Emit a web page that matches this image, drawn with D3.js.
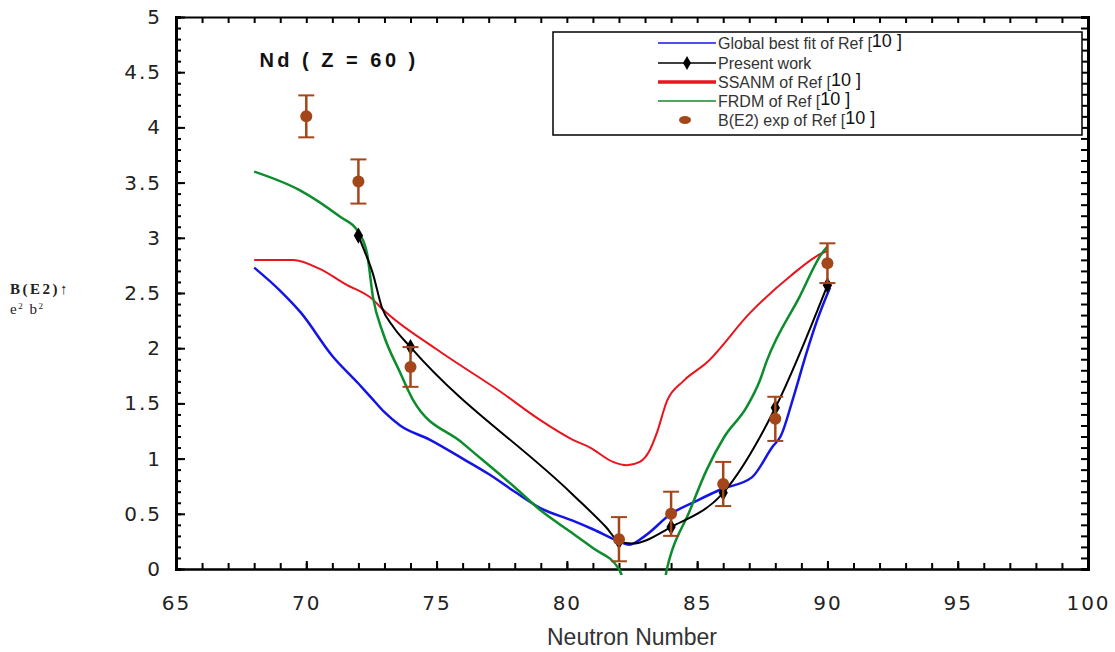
<!DOCTYPE html>
<html>
<head>
<meta charset="utf-8">
<script src="https://cdn.jsdelivr.net/npm/d3@7"></script>
<style>
  body { margin: 0; background: #fff; }
  .tick text { font-family: "DejaVu Sans", sans-serif; font-size: 20px; fill: #222; letter-spacing: 2px; }
</style>
</head>
<body>
<div id="chart"></div>
<script>
// axis ticks
const xMajor = [65, 70, 75, 80, 85, 90, 95, 100];
const yMajor = [0, 0.5, 1, 1.5, 2, 2.5, 3, 3.5, 4, 4.5, 5];

// B(E2) exp of Ref [10]
const expN = [70, 72, 74, 82, 84, 86, 88, 90];
const expB = [4.10, 3.51, 1.83, 0.27, 0.50, 0.77, 1.36, 2.77];
const expErr = [0.19, 0.20, 0.18, 0.20, 0.20, 0.20, 0.20, 0.18];

// Present work (markers + traced line)
const presentN = [72, 74, 82, 84, 86, 88, 90];
const presentB = [3.02, 2.01, 0.25, 0.38, 0.69, 1.46, 2.57];
const presentLineN = [72, 72.2, 72.55, 72.9, 73.35, 74, 80.2, 81.5, 82, 82.5, 84, 86, 88, 90];
const presentLineB = [3.02, 2.90, 2.68, 2.37, 2.19, 2.01, 0.68, 0.38, 0.25, 0.23, 0.38, 0.69, 1.46, 2.57];

// Global best fit of Ref [10]
const globalN = [68, 69, 69.8, 71, 72, 72.5, 73, 73.6, 74.75, 76, 77, 78, 79, 80.2, 81, 82, 82.4, 83, 84, 85, 85.9, 87.1, 87.9, 88.2, 88.7, 89.2, 89.6, 90.1];
const globalB = [2.73, 2.52, 2.32, 1.93, 1.68, 1.55, 1.42, 1.30, 1.17, 1.00, 0.86, 0.70, 0.55, 0.44, 0.36, 0.25, 0.22, 0.30, 0.50, 0.62, 0.72, 0.83, 1.11, 1.20, 1.56, 1.96, 2.25, 2.55];

// SSANM of Ref [10]
const ssanmN = [68, 69.5, 70.5, 71.5, 72.56, 72.9, 75, 77.43, 78.97, 80.23, 80.89, 81.77, 82.3, 82.8, 83.19, 83.45, 83.84, 84.46, 85.37, 87.03, 88.56, 89.79, 90];
const ssanmB = [2.80, 2.80, 2.72, 2.58, 2.44, 2.36, 1.99, 1.61, 1.35, 1.17, 1.10, 0.97, 0.94, 0.97, 1.08, 1.23, 1.52, 1.70, 1.87, 2.32, 2.65, 2.86, 2.88];

// FRDM of Ref [10]
const frdmN = [68, 69.76, 71.3, 71.95, 72.33, 72.56, 72.94, 73.6, 74.1, 76, 78, 79, 80, 81, 82, 82.3, 83.7, 83.84, 84.72, 85.37, 86.05, 86.91, 87.41, 87.68, 88.94, 89.79, 90];
const frdmB = [3.60, 3.43, 3.19, 3.07, 2.86, 2.46, 2.14, 1.78, 1.53, 1.14, 0.74, 0.53, 0.36, 0.19, 0.0, -0.15, -0.15, 0.0, 0.53, 0.90, 1.20, 1.47, 1.71, 1.89, 2.47, 2.86, 2.92];

const margin = { top: 17, right: 27, bottom: 83, left: 176 };
const width = 1115 - margin.left - margin.right;
const height = 652 - margin.top - margin.bottom;

const root = d3.select('#chart')
  .append('svg')
  .attr('width', 1115)
  .attr('height', 652);

const svg = root.append('g')
  .attr('transform', `translate(${margin.left},${margin.top})`);

const x = d3.scaleLinear().domain([65, 100]).range([0, width]);
const y = d3.scaleLinear().domain([0, 5]).range([height, 0]);

const xMinor = d3.range(65, 101, 1);
const yMinor = d3.range(0, 51, 1).map(d => d / 10);

// axes: minor ticks first, then majors with labels
function styleAxis(g, w) {
  g.select('.domain').attr('stroke', '#000').attr('stroke-width', w);
  g.selectAll('.tick line').attr('stroke', '#000').attr('stroke-width', 2);
}

svg.append('g')
  .attr('transform', `translate(0,${height})`)
  .call(d3.axisBottom(x).tickValues(xMinor).tickSize(-6).tickFormat(''))
  .call(g => styleAxis(g, 2));
svg.append('g')
  .attr('transform', `translate(0,${height})`)
  .call(d3.axisBottom(x).tickValues(xMajor).tickSizeInner(-8).tickSizeOuter(0).tickPadding(27).tickFormat(d3.format('d')))
  .call(g => styleAxis(g, 2));

svg.append('g')
  .call(d3.axisTop(x).tickValues(xMinor).tickSize(-6).tickFormat(''))
  .call(g => styleAxis(g, 2));

svg.append('g')
  .call(d3.axisLeft(y).tickValues(yMinor).tickSize(-5).tickFormat(''))
  .call(g => styleAxis(g, 3));
svg.append('g')
  .call(d3.axisLeft(y).tickValues(yMajor).tickSizeInner(-9).tickSizeOuter(0).tickPadding(14).tickFormat(d3.format('')))
  .call(g => styleAxis(g, 3));

svg.append('g')
  .attr('transform', `translate(${width},0)`)
  .call(d3.axisRight(y).tickValues(yMinor).tickSize(-7).tickFormat(''))
  .call(g => styleAxis(g, 3));

// clip so the FRDM dip is hidden just below the axis
svg.append('clipPath').attr('id', 'plotClip')
  .append('rect')
  .attr('x', 0).attr('y', -2)
  .attr('width', width).attr('height', y(-0.055) + 2);

const line = d3.line()
  .x(d => x(d[0]))
  .y(d => y(d[1]))
  .curve(d3.curveMonotoneX);

const curves = svg.append('g').attr('clip-path', 'url(#plotClip)');

curves.append('path')
  .datum(d3.zip(ssanmN, ssanmB))
  .attr('d', line)
  .attr('fill', 'none')
  .attr('stroke', '#e8141e')
  .attr('stroke-width', 2);

curves.append('path')
  .datum(d3.zip(globalN, globalB))
  .attr('d', line)
  .attr('fill', 'none')
  .attr('stroke', '#1414e6')
  .attr('stroke-width', 2.5);

curves.append('path')
  .datum(d3.zip(frdmN, frdmB))
  .attr('d', line)
  .attr('fill', 'none')
  .attr('stroke', '#0c8c2c')
  .attr('stroke-width', 2.5);

curves.append('path')
  .datum(d3.zip(presentLineN, presentLineB))
  .attr('d', line)
  .attr('fill', 'none')
  .attr('stroke', '#000')
  .attr('stroke-width', 2);

// present work markers
svg.append('g')
  .selectAll('path')
  .data(d3.zip(presentN, presentB))
  .join('path')
  .attr('transform', d => `translate(${x(d[0])},${y(d[1])})`)
  .attr('d', d3.symbol(d3.symbolDiamond).size(75))
  .attr('fill', '#000');

// experimental points with error bars
const brown = '#a3461a';
const exp = svg.append('g')
  .selectAll('g')
  .data(d3.zip(expN, expB, expErr))
  .join('g');

exp.append('line')
  .attr('x1', d => x(d[0])).attr('x2', d => x(d[0]))
  .attr('y1', d => y(d[1] + d[2])).attr('y2', d => y(d[1] - d[2]))
  .attr('stroke', brown).attr('stroke-width', 2.5);
exp.append('line')
  .attr('x1', d => x(d[0]) - 8).attr('x2', d => x(d[0]) + 8)
  .attr('y1', d => y(d[1] + d[2])).attr('y2', d => y(d[1] + d[2]))
  .attr('stroke', brown).attr('stroke-width', 2);
exp.append('line')
  .attr('x1', d => x(d[0]) - 8).attr('x2', d => x(d[0]) + 8)
  .attr('y1', d => y(d[1] - d[2])).attr('y2', d => y(d[1] - d[2]))
  .attr('stroke', brown).attr('stroke-width', 2);
exp.append('circle')
  .attr('cx', d => x(d[0])).attr('cy', d => y(d[1]))
  .attr('r', 6)
  .attr('fill', brown);

// title inside the plot
svg.append('text')
  .attr('x', x(68.2))
  .attr('y', 50)
  .attr('font-family', 'Liberation Sans, Arial, sans-serif')
  .attr('font-size', 20)
  .attr('font-weight', 'bold')
  .attr('letter-spacing', 3.5)
  .attr('fill', '#111')
  .text('Nd ( Z = 60 )');

// axis titles
root.append('text')
  .attr('x', margin.left + width / 2)
  .attr('y', 645)
  .attr('text-anchor', 'middle')
  .attr('font-family', 'Liberation Sans, Arial, sans-serif')
  .attr('font-size', 23)
  .attr('fill', '#333')
  .text('Neutron Number');

const yLab = root.append('g')
  .attr('font-family', 'Liberation Serif, DejaVu Serif, serif')
  .attr('fill', '#222');
yLab.append('text')
  .attr('x', 10).attr('y', 294)
  .attr('font-size', 15).attr('font-weight', 'bold')
  .attr('letter-spacing', 2.5)
  .text('B(E2)\u2191');
const eb = yLab.append('text')
  .attr('x', 10).attr('y', 314)
  .attr('font-size', 15)
  .attr('letter-spacing', 1.5);
eb.append('tspan').text('e');
eb.append('tspan').attr('font-size', 9).attr('dy', -5).text('2');
eb.append('tspan').attr('dy', 5).text(' b');
eb.append('tspan').attr('font-size', 9).attr('dy', -5).text('2');

// legend
const legend = root.append('g');
legend.append('rect')
  .attr('x', 553).attr('y', 32)
  .attr('width', 529).attr('height', 103)
  .attr('fill', '#fff')
  .attr('stroke', '#000')
  .attr('stroke-width', 1.5);

const legendLabels = ['Global best fit of Ref [', 'Present work', 'SSANM of Ref [', 'FRDM of Ref [', 'B(E2) exp of Ref ['];
const legendRefs = ['10 ]', '', '10 ]', '10 ]', '10 ]'];
const legendColors = ['#1414e6', '#000', '#e8141e', '#0c8c2c', brown];
const legendWidths = [1.5, 1.5, 3.5, 1.5, 0];
const legendRows = [43, 63, 82, 101, 120];

legendLabels.forEach((lab, i) => {
  const ry = legendRows[i];
  if (legendWidths[i] > 0) {
    legend.append('line')
      .attr('x1', 658).attr('x2', 716)
      .attr('y1', ry).attr('y2', ry)
      .attr('stroke', legendColors[i])
      .attr('stroke-width', legendWidths[i]);
  }
  if (i === 1) {
    legend.append('path')
      .attr('transform', `translate(687,${ry})`)
      .attr('d', d3.symbol(d3.symbolDiamond).size(55))
      .attr('fill', '#000');
  }
  if (i === 4) {
    legend.append('ellipse')
      .attr('cx', 685).attr('cy', ry)
      .attr('rx', 6).attr('ry', 4)
      .attr('fill', brown);
  }
  const t = legend.append('text')
    .attr('x', 718).attr('y', ry + 6)
    .attr('font-family', 'Liberation Sans, Arial, sans-serif')
    .attr('font-size', 16)
    .attr('fill', '#333')
    .text(lab);
  if (legendRefs[i]) {
    t.append('tspan').attr('font-size', 18).attr('dy', -2).attr('fill', '#111').text(legendRefs[i]);
  }
});
</script>
</body>
</html>
